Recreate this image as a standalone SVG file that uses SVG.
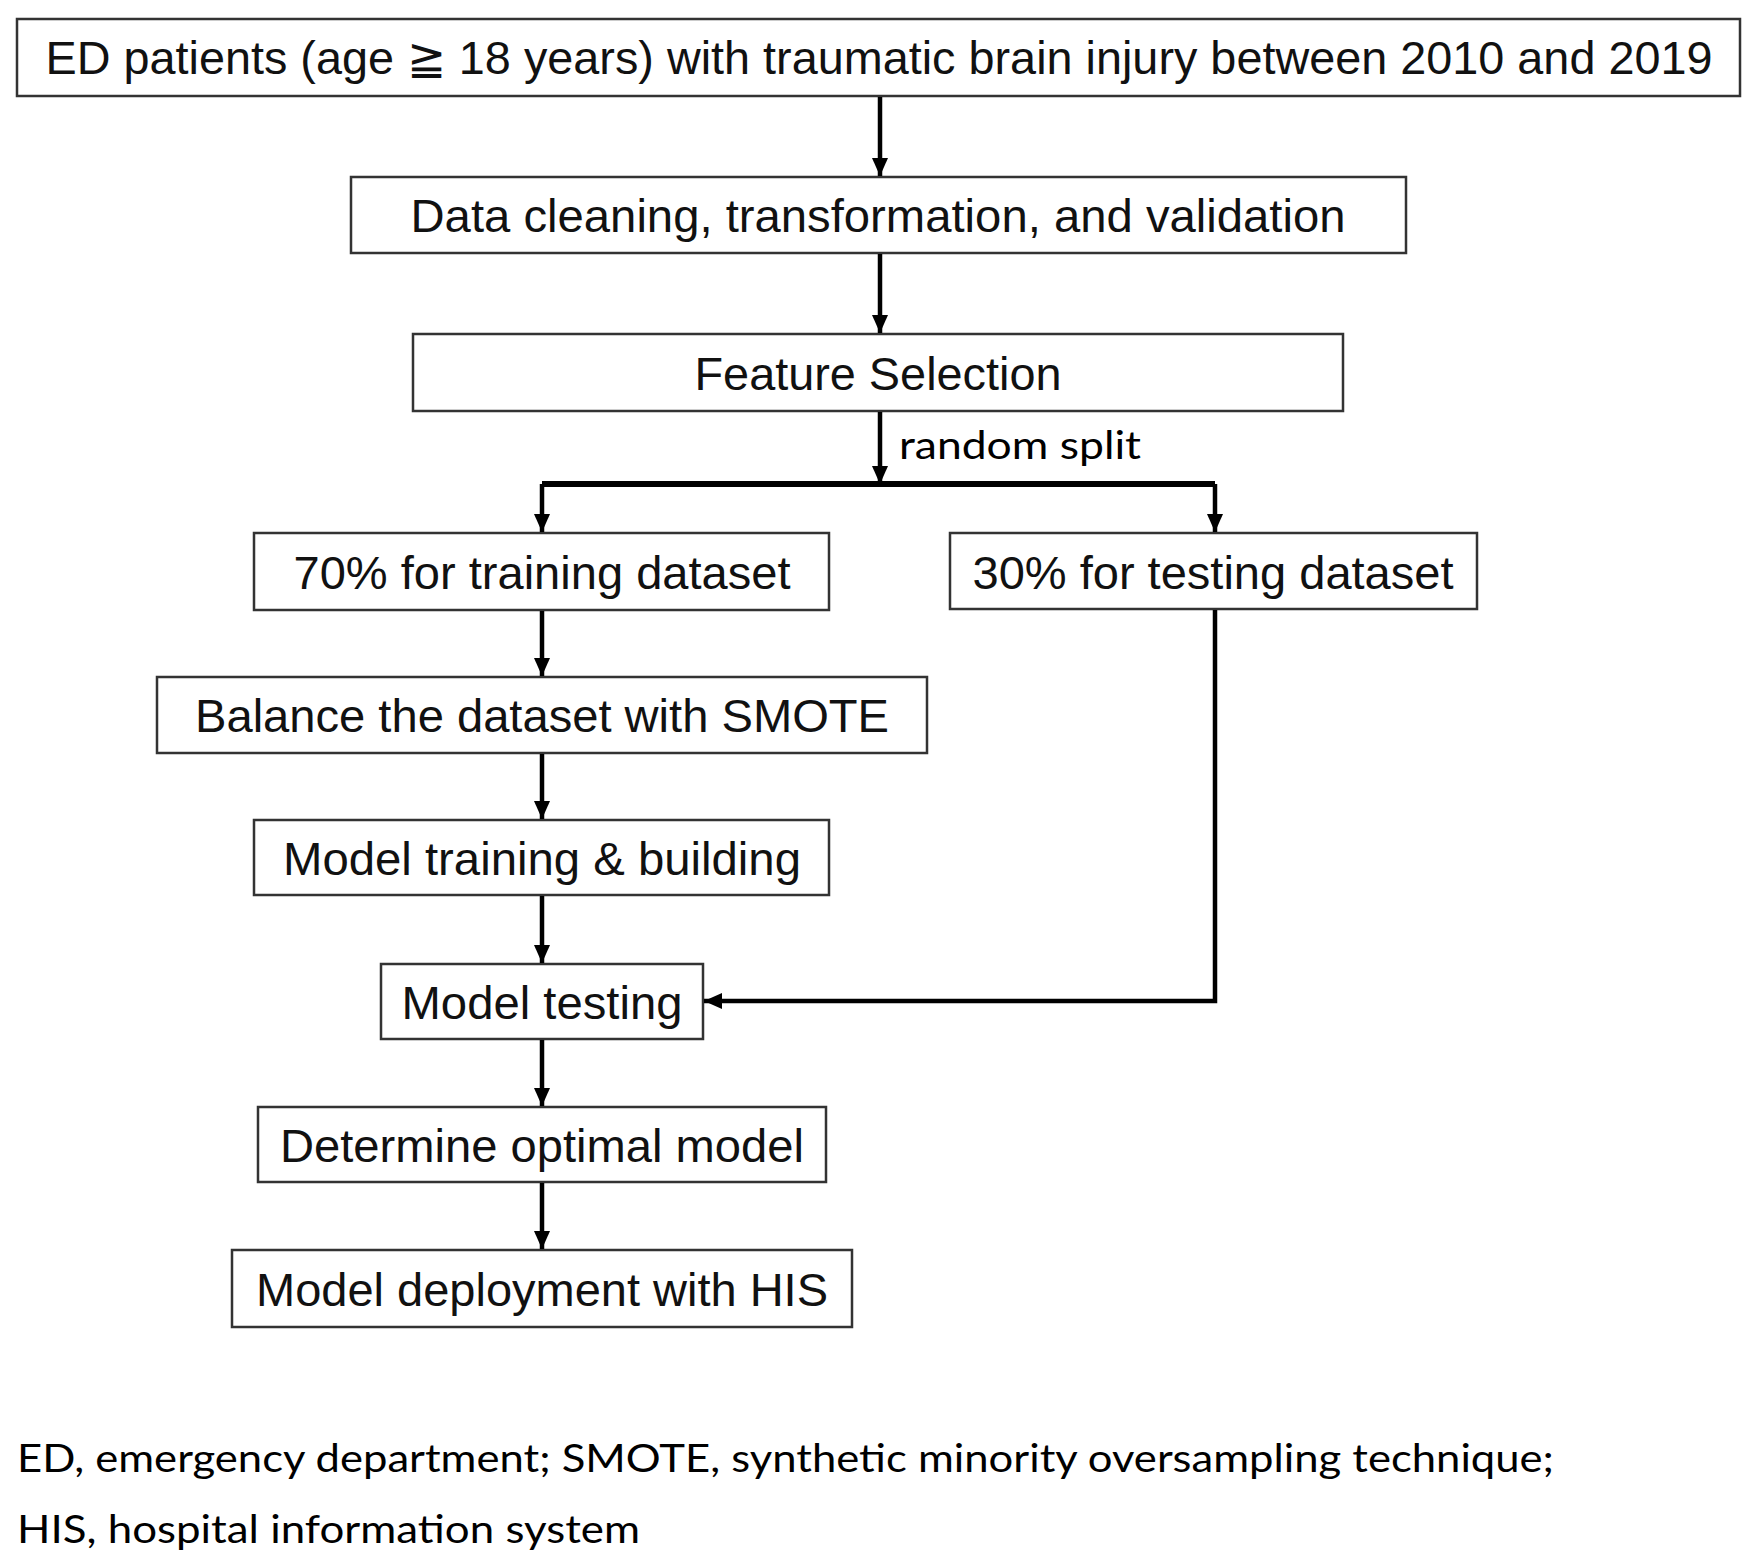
<svg xmlns="http://www.w3.org/2000/svg" width="1757" height="1566" viewBox="0 0 1757 1566">
<defs>
<style>
.box{fill:#fff;stroke:#333;stroke-width:2.5}
.t{font-family:"Liberation Sans",Arial,sans-serif;font-size:47px;fill:#111;text-anchor:middle}
.c{fill:none;stroke:#000;stroke-width:4.5}
.lab{font-family:Lato,"Open Sans",sans-serif;font-size:38px;fill:#000}
</style>
<marker id="ah" markerUnits="userSpaceOnUse" markerWidth="18" markerHeight="20" refX="18" refY="8" orient="auto">
<path d="M0,0 L18,8 L0,16 Z" fill="#000"/>
</marker>
</defs>
<rect width="1757" height="1566" fill="#fff"/>
<g id="n1"><rect class="box" x="17" y="19" width="1723" height="77"/><text class="t" x="879" y="74" textLength="1667" lengthAdjust="spacingAndGlyphs">ED patients (age ≧ 18 years) with traumatic brain injury between 2010 and 2019</text></g>
<g id="n2"><rect class="box" x="351" y="177" width="1055" height="76"/><text class="t" x="878" y="232" textLength="935" lengthAdjust="spacingAndGlyphs">Data cleaning, transformation, and validation</text></g>
<g id="n3"><rect class="box" x="413" y="334" width="930" height="77"/><text class="t" x="878" y="390" textLength="367" lengthAdjust="spacingAndGlyphs">Feature Selection</text></g>
<g id="n4"><rect class="box" x="254" y="533" width="575" height="77"/><text class="t" x="542" y="589" textLength="497" lengthAdjust="spacingAndGlyphs">70% for training dataset</text></g>
<g id="n5"><rect class="box" x="950" y="533" width="527" height="76"/><text class="t" x="1213" y="589" textLength="481" lengthAdjust="spacingAndGlyphs">30% for testing dataset</text></g>
<g id="n6"><rect class="box" x="157" y="677" width="770" height="76"/><text class="t" x="542" y="732" textLength="694" lengthAdjust="spacingAndGlyphs">Balance the dataset with SMOTE</text></g>
<g id="n7"><rect class="box" x="254" y="820" width="575" height="75"/><text class="t" x="542" y="875" textLength="518" lengthAdjust="spacingAndGlyphs">Model training &amp; building</text></g>
<g id="n8"><rect class="box" x="381" y="964" width="322" height="75"/><text class="t" x="542" y="1019" textLength="281" lengthAdjust="spacingAndGlyphs">Model testing</text></g>
<g id="n9"><rect class="box" x="258" y="1107" width="568" height="75"/><text class="t" x="542" y="1162" textLength="524" lengthAdjust="spacingAndGlyphs">Determine optimal model</text></g>
<g id="n10"><rect class="box" x="232" y="1250" width="620" height="77"/><text class="t" x="542" y="1306" textLength="572" lengthAdjust="spacingAndGlyphs">Model deployment with HIS</text></g>
<g id="connectors">
<line class="c" x1="880" y1="97" x2="880" y2="176" marker-end="url(#ah)"/>
<line class="c" x1="880" y1="254" x2="880" y2="333" marker-end="url(#ah)"/>
<line class="c" x1="880" y1="412" x2="880" y2="484" marker-end="url(#ah)"/>
<polyline class="c" style="stroke-width:6" points="542,484 1215,484"/>
<line class="c" x1="542" y1="484" x2="542" y2="532" marker-end="url(#ah)"/>
<line class="c" x1="1215" y1="484" x2="1215" y2="532" marker-end="url(#ah)"/>
<line class="c" x1="542" y1="611" x2="542" y2="676" marker-end="url(#ah)"/>
<line class="c" x1="542" y1="754" x2="542" y2="819" marker-end="url(#ah)"/>
<line class="c" x1="542" y1="896" x2="542" y2="963" marker-end="url(#ah)"/>
<line class="c" x1="542" y1="1040" x2="542" y2="1106" marker-end="url(#ah)"/>
<line class="c" x1="542" y1="1183" x2="542" y2="1249" marker-end="url(#ah)"/>
<polyline class="c" points="1215,610 1215,1001 704,1001" marker-end="url(#ah)"/>
<text class="lab" x="899" y="459" textLength="242" lengthAdjust="spacingAndGlyphs">random split</text>
</g>
<g id="footer">
<text class="lab" x="17" y="1472" textLength="1537" lengthAdjust="spacingAndGlyphs">ED, emergency department; SMOTE, synthetic minority oversampling technique;</text>
<text class="lab" x="17" y="1543" textLength="623" lengthAdjust="spacingAndGlyphs">HIS, hospital information system</text>
</g>
</svg>
